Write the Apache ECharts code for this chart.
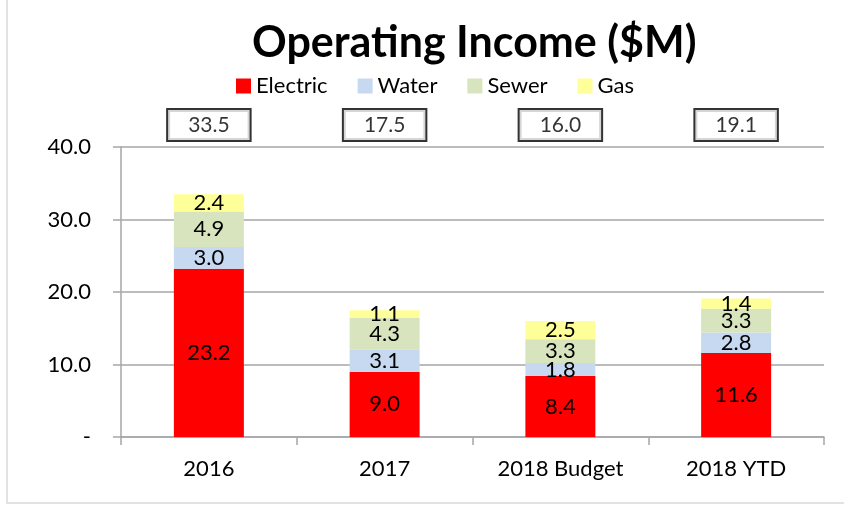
<!DOCTYPE html>
<html>
<head>
<meta charset="utf-8">
<script src="https://cdn.jsdelivr.net/npm/echarts@6/dist/echarts.min.js"></script>
<style>
  html, body { margin: 0; padding: 0; background: #fff; }
  #chart { width: 844px; height: 505px; }
</style>
</head>
<body>
<div id="chart"></div>
<script>
// Operating Income ($M) — stacked by utility, total shown in a box above each column
const categories = ['2016', '2017', '2018 Budget', '2018 YTD']
const electric = [23.2, 9.0, 8.4, 11.6]
const water = [3.0, 3.1, 1.8, 2.8]
const sewer = [4.9, 4.3, 3.3, 3.3]
const gas = [2.4, 1.1, 2.5, 1.4]
const totals = [33.5, 17.5, 16.0, 19.1]
const yTicks = [0, 10, 20, 30, 40]

const FONT = 'Lato, "Open Sans", sans-serif'
const COLOR = {
  electric: '#FF0000', water: '#C6D9F1', sewer: '#D7E4BD', gas: '#FFFF99',
  grid: '#A6A6A6', text: '#000',
}

const chart = echarts.init(document.getElementById('chart'), null, { renderer: 'canvas' })

const segLabel = {
  show: true, position: 'inside', color: COLOR.text, fontFamily: FONT, fontSize: 22,
  formatter: p => p.value.toFixed(1),
}
const stackSeries = (name, data, color) => ({
  name, type: 'bar', stack: 'total', data, barWidth: 70,
  itemStyle: { color }, label: segLabel, emphasis: { disabled: true },
})

chart.setOption({
  animation: false,
  backgroundColor: '#fff',
  // title and legend sit right of centre in the original, so they are placed by their left edge
  title: {
    text: 'Operating Income ($M)', left: 247, top: 17,
    textStyle: { fontFamily: FONT, fontWeight: 'bold', fontSize: 43, color: COLOR.text },
  },
  legend: {
    top: 70, left: 231, itemWidth: 15, itemHeight: 15, itemGap: 30,
    icon: 'rect',
    textStyle: { fontFamily: FONT, fontSize: 22, color: COLOR.text },
    data: ['Electric', 'Water', 'Sewer', 'Gas'],
  },
  graphic: [{
    type: 'rect', shape: { x: 7, y: -2, width: 850, height: 505 },
    style: { fill: 'none', stroke: '#D9D9D9', lineWidth: 1.5 }, silent: true,
  }],
  grid: { left: 121, right: 20, top: 147, bottom: 68 },
  xAxis: {
    type: 'category', data: categories,
    axisLine: { lineStyle: { color: COLOR.grid, width: 1.5 } },
    axisTick: { show: true, length: 8, lineStyle: { color: COLOR.grid, width: 1.5 } },
    axisLabel: { color: COLOR.text, fontFamily: FONT, fontSize: 22, margin: 21 },
  },
  yAxis: {
    type: 'value', min: yTicks[0], max: yTicks[yTicks.length - 1], interval: 10,
    axisLine: { show: true, lineStyle: { color: COLOR.grid, width: 1.5 } },
    axisTick: { show: true, length: 8, lineStyle: { color: COLOR.grid, width: 1.5 } },
    axisLabel: {
      color: COLOR.text, fontFamily: FONT, fontSize: 22, margin: 30,
      formatter: v => (v === 0 ? '-' : v.toFixed(1)),
    },
    splitLine: { lineStyle: { color: COLOR.grid, width: 1.5 } },
  },
  series: [
    stackSeries('Electric', electric, COLOR.electric),
    stackSeries('Water', water, COLOR.water),
    stackSeries('Sewer', sewer, COLOR.sewer),
    stackSeries('Gas', gas, COLOR.gas),
    {
      // invisible anchors at the top of the value axis carry the boxed totals
      name: 'Total', type: 'scatter', symbolSize: 0, silent: true,
      data: totals.map(() => yTicks[yTicks.length - 1]),
      label: {
        show: true, position: 'top', distance: 7,
        formatter: p => totals[p.dataIndex].toFixed(1),
        color: COLOR.text, fontFamily: FONT, fontSize: 21,
        backgroundColor: '#fff', borderColor: '#000', borderWidth: 2,
        padding: [5, 20, 4, 20],
      },
    },
  ],
})
</script>
</body>
</html>
